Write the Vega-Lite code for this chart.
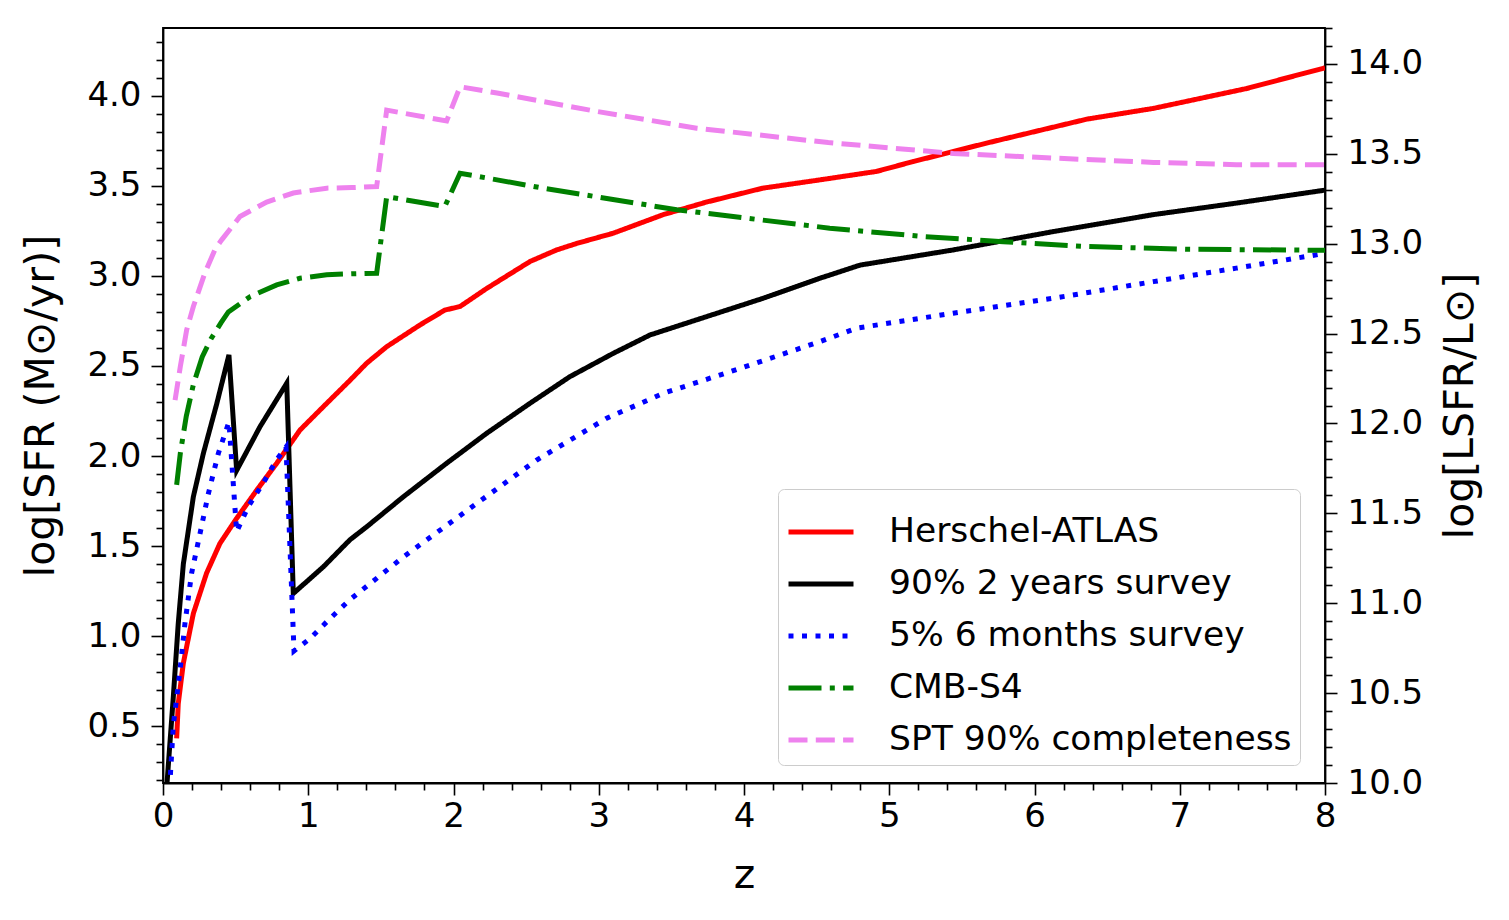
{
  "$schema": "https://vega.github.io/schema/vega-lite/v6.json",
  "width": 1162,
  "height": 755,
  "autosize": {"type": "none"},
  "padding": {"left": 163, "top": 28, "right": 184, "bottom": 137},
  "background": "white",
  "datasets": {
    "curves": [
      {"s": "Herschel-ATLAS", "z": 0.094, "v": 0.433},
      {"s": "Herschel-ATLAS", "z": 0.105, "v": 0.626},
      {"s": "Herschel-ATLAS", "z": 0.14, "v": 0.85},
      {"s": "Herschel-ATLAS", "z": 0.209, "v": 1.126},
      {"s": "Herschel-ATLAS", "z": 0.3, "v": 1.35},
      {"s": "Herschel-ATLAS", "z": 0.392, "v": 1.515},
      {"s": "Herschel-ATLAS", "z": 0.507, "v": 1.654},
      {"s": "Herschel-ATLAS", "z": 0.645, "v": 1.81},
      {"s": "Herschel-ATLAS", "z": 0.783, "v": 1.96},
      {"s": "Herschel-ATLAS", "z": 0.943, "v": 2.144},
      {"s": "Herschel-ATLAS", "z": 1.104, "v": 2.274},
      {"s": "Herschel-ATLAS", "z": 1.287, "v": 2.42},
      {"s": "Herschel-ATLAS", "z": 1.402, "v": 2.515},
      {"s": "Herschel-ATLAS", "z": 1.54, "v": 2.607},
      {"s": "Herschel-ATLAS", "z": 1.77, "v": 2.728},
      {"s": "Herschel-ATLAS", "z": 1.94, "v": 2.81},
      {"s": "Herschel-ATLAS", "z": 2.045, "v": 2.83},
      {"s": "Herschel-ATLAS", "z": 2.228, "v": 2.93},
      {"s": "Herschel-ATLAS", "z": 2.527, "v": 3.08},
      {"s": "Herschel-ATLAS", "z": 2.71, "v": 3.144},
      {"s": "Herschel-ATLAS", "z": 2.848, "v": 3.18},
      {"s": "Herschel-ATLAS", "z": 3.1, "v": 3.237},
      {"s": "Herschel-ATLAS", "z": 3.444, "v": 3.34},
      {"s": "Herschel-ATLAS", "z": 3.743, "v": 3.41},
      {"s": "Herschel-ATLAS", "z": 4.13, "v": 3.487},
      {"s": "Herschel-ATLAS", "z": 4.523, "v": 3.533},
      {"s": "Herschel-ATLAS", "z": 4.913, "v": 3.58},
      {"s": "Herschel-ATLAS", "z": 5.166, "v": 3.635},
      {"s": "Herschel-ATLAS", "z": 5.67, "v": 3.737},
      {"s": "Herschel-ATLAS", "z": 6.36, "v": 3.87},
      {"s": "Herschel-ATLAS", "z": 6.82, "v": 3.93},
      {"s": "Herschel-ATLAS", "z": 7.46, "v": 4.04},
      {"s": "Herschel-ATLAS", "z": 8.0, "v": 4.155},

      {"s": "90% 2 years survey", "z": 0.02, "v": 0.1},
      {"s": "90% 2 years survey", "z": 0.071, "v": 0.663},
      {"s": "90% 2 years survey", "z": 0.105, "v": 1.07},
      {"s": "90% 2 years survey", "z": 0.14, "v": 1.4},
      {"s": "90% 2 years survey", "z": 0.209, "v": 1.774},
      {"s": "90% 2 years survey", "z": 0.278, "v": 2.015},
      {"s": "90% 2 years survey", "z": 0.37, "v": 2.29},
      {"s": "90% 2 years survey", "z": 0.454, "v": 2.561},
      {"s": "90% 2 years survey", "z": 0.507, "v": 1.92},
      {"s": "90% 2 years survey", "z": 0.668, "v": 2.163},
      {"s": "90% 2 years survey", "z": 0.852, "v": 2.404},
      {"s": "90% 2 years survey", "z": 0.897, "v": 1.237},
      {"s": "90% 2 years survey", "z": 1.104, "v": 1.385},
      {"s": "90% 2 years survey", "z": 1.287, "v": 1.535},
      {"s": "90% 2 years survey", "z": 1.402, "v": 1.607},
      {"s": "90% 2 years survey", "z": 1.655, "v": 1.774},
      {"s": "90% 2 years survey", "z": 1.953, "v": 1.96},
      {"s": "90% 2 years survey", "z": 2.228, "v": 2.126},
      {"s": "90% 2 years survey", "z": 2.527, "v": 2.293},
      {"s": "90% 2 years survey", "z": 2.8, "v": 2.44},
      {"s": "90% 2 years survey", "z": 3.1, "v": 2.57},
      {"s": "90% 2 years survey", "z": 3.353, "v": 2.672},
      {"s": "90% 2 years survey", "z": 3.674, "v": 2.756},
      {"s": "90% 2 years survey", "z": 4.133, "v": 2.876},
      {"s": "90% 2 years survey", "z": 4.523, "v": 2.987},
      {"s": "90% 2 years survey", "z": 4.8, "v": 3.06},
      {"s": "90% 2 years survey", "z": 5.44, "v": 3.144},
      {"s": "90% 2 years survey", "z": 6.13, "v": 3.246},
      {"s": "90% 2 years survey", "z": 6.818, "v": 3.34},
      {"s": "90% 2 years survey", "z": 7.39, "v": 3.404},
      {"s": "90% 2 years survey", "z": 8.0, "v": 3.476},

      {"s": "5% 6 months survey", "z": 0.04, "v": 0.08},
      {"s": "5% 6 months survey", "z": 0.071, "v": 0.506},
      {"s": "5% 6 months survey", "z": 0.117, "v": 0.81},
      {"s": "5% 6 months survey", "z": 0.151, "v": 1.07},
      {"s": "5% 6 months survey", "z": 0.197, "v": 1.35},
      {"s": "5% 6 months survey", "z": 0.255, "v": 1.57},
      {"s": "5% 6 months survey", "z": 0.312, "v": 1.79},
      {"s": "5% 6 months survey", "z": 0.381, "v": 2.015},
      {"s": "5% 6 months survey", "z": 0.454, "v": 2.19},
      {"s": "5% 6 months survey", "z": 0.507, "v": 1.58},
      {"s": "5% 6 months survey", "z": 0.587, "v": 1.72},
      {"s": "5% 6 months survey", "z": 0.69, "v": 1.85},
      {"s": "5% 6 months survey", "z": 0.783, "v": 1.98},
      {"s": "5% 6 months survey", "z": 0.847, "v": 2.05},
      {"s": "5% 6 months survey", "z": 0.902, "v": 0.918},
      {"s": "5% 6 months survey", "z": 1.012, "v": 0.987},
      {"s": "5% 6 months survey", "z": 1.15, "v": 1.098},
      {"s": "5% 6 months survey", "z": 1.283, "v": 1.2},
      {"s": "5% 6 months survey", "z": 1.655, "v": 1.44},
      {"s": "5% 6 months survey", "z": 2.114, "v": 1.71},
      {"s": "5% 6 months survey", "z": 2.573, "v": 1.978},
      {"s": "5% 6 months survey", "z": 3.055, "v": 2.21},
      {"s": "5% 6 months survey", "z": 3.444, "v": 2.348},
      {"s": "5% 6 months survey", "z": 3.904, "v": 2.468},
      {"s": "5% 6 months survey", "z": 4.523, "v": 2.635},
      {"s": "5% 6 months survey", "z": 4.776, "v": 2.71},
      {"s": "5% 6 months survey", "z": 5.44, "v": 2.793},
      {"s": "5% 6 months survey", "z": 6.13, "v": 2.876},
      {"s": "5% 6 months survey", "z": 6.818, "v": 2.968},
      {"s": "5% 6 months survey", "z": 7.39, "v": 3.043},
      {"s": "5% 6 months survey", "z": 8.0, "v": 3.125},

      {"s": "CMB-S4", "z": 0.094, "v": 1.84},
      {"s": "CMB-S4", "z": 0.12, "v": 2.02},
      {"s": "CMB-S4", "z": 0.16, "v": 2.22},
      {"s": "CMB-S4", "z": 0.21, "v": 2.4},
      {"s": "CMB-S4", "z": 0.27, "v": 2.55},
      {"s": "CMB-S4", "z": 0.33, "v": 2.65},
      {"s": "CMB-S4", "z": 0.4, "v": 2.74},
      {"s": "CMB-S4", "z": 0.45, "v": 2.8},
      {"s": "CMB-S4", "z": 0.6, "v": 2.885},
      {"s": "CMB-S4", "z": 0.783, "v": 2.95},
      {"s": "CMB-S4", "z": 0.943, "v": 2.987},
      {"s": "CMB-S4", "z": 1.127, "v": 3.006},
      {"s": "CMB-S4", "z": 1.3, "v": 3.012},
      {"s": "CMB-S4", "z": 1.471, "v": 3.015},
      {"s": "CMB-S4", "z": 1.54, "v": 3.44},
      {"s": "CMB-S4", "z": 1.94, "v": 3.385},
      {"s": "CMB-S4", "z": 2.045, "v": 3.57},
      {"s": "CMB-S4", "z": 2.618, "v": 3.487},
      {"s": "CMB-S4", "z": 3.537, "v": 3.367},
      {"s": "CMB-S4", "z": 4.59, "v": 3.265},
      {"s": "CMB-S4", "z": 5.21, "v": 3.22},
      {"s": "CMB-S4", "z": 5.785, "v": 3.19},
      {"s": "CMB-S4", "z": 6.36, "v": 3.163},
      {"s": "CMB-S4", "z": 7.05, "v": 3.148},
      {"s": "CMB-S4", "z": 8.0, "v": 3.142},

      {"s": "SPT 90% completeness", "z": 0.083, "v": 2.31},
      {"s": "SPT 90% completeness", "z": 0.12, "v": 2.5},
      {"s": "SPT 90% completeness", "z": 0.163, "v": 2.7},
      {"s": "SPT 90% completeness", "z": 0.209, "v": 2.83},
      {"s": "SPT 90% completeness", "z": 0.29, "v": 3.02},
      {"s": "SPT 90% completeness", "z": 0.36, "v": 3.15},
      {"s": "SPT 90% completeness", "z": 0.404, "v": 3.2},
      {"s": "SPT 90% completeness", "z": 0.53, "v": 3.33},
      {"s": "SPT 90% completeness", "z": 0.714, "v": 3.41},
      {"s": "SPT 90% completeness", "z": 0.897, "v": 3.46},
      {"s": "SPT 90% completeness", "z": 1.127, "v": 3.487},
      {"s": "SPT 90% completeness", "z": 1.3, "v": 3.49},
      {"s": "SPT 90% completeness", "z": 1.471, "v": 3.496},
      {"s": "SPT 90% completeness", "z": 1.54, "v": 3.92},
      {"s": "SPT 90% completeness", "z": 1.953, "v": 3.86},
      {"s": "SPT 90% completeness", "z": 2.045, "v": 4.05},
      {"s": "SPT 90% completeness", "z": 2.3, "v": 4.015},
      {"s": "SPT 90% completeness", "z": 2.986, "v": 3.913},
      {"s": "SPT 90% completeness", "z": 3.674, "v": 3.82},
      {"s": "SPT 90% completeness", "z": 4.58, "v": 3.74},
      {"s": "SPT 90% completeness", "z": 5.44, "v": 3.68},
      {"s": "SPT 90% completeness", "z": 6.13, "v": 3.654},
      {"s": "SPT 90% completeness", "z": 6.82, "v": 3.63},
      {"s": "SPT 90% completeness", "z": 7.39, "v": 3.617},
      {"s": "SPT 90% completeness", "z": 8.0, "v": 3.617}
    ],
    "rightRange": [{"L": 10.0}, {"L": 14.2}]
  },
  "layer": [
    {
      "data": {"name": "curves"},
      "mark": {"type": "line", "strokeWidth": 5, "clip": true},
      "encoding": {
        "x": {
          "field": "z",
          "type": "quantitative",
          "title": "z",
          "scale": {"domain": [0, 8], "nice": false, "zero": false},
          "axis": {
            "values": [0, 0.2, 0.4, 0.6, 0.8, 1, 1.2, 1.4, 1.6, 1.8, 2, 2.2, 2.4, 2.6, 2.8, 3, 3.2, 3.4, 3.6, 3.8, 4, 4.2, 4.4, 4.6, 4.8, 5, 5.2, 5.4, 5.6, 5.8, 6, 6.2, 6.4, 6.6, 6.8, 7, 7.2, 7.4, 7.6, 7.8, 8],
            "labelExpr": "abs(datum.value - round(datum.value)) < 0.01 ? format(datum.value, 'd') : ''",
            "tickSize": {"condition": {"test": "abs(datum.value - round(datum.value)) < 0.01", "value": 12}, "value": 7},
            "labelPadding": 4,
            "titlePadding": 22
          }
        },
        "y": {
          "field": "v",
          "type": "quantitative",
          "title": "log[SFR (M⊙/yr)]",
          "scale": {"domain": [0.185, 4.376], "nice": false, "zero": false},
          "axis": {
            "orient": "left",
            "values": [0.2, 0.3, 0.4, 0.5, 0.6, 0.7, 0.8, 0.9, 1.0, 1.1, 1.2, 1.3, 1.4, 1.5, 1.6, 1.7, 1.8, 1.9, 2.0, 2.1, 2.2, 2.3, 2.4, 2.5, 2.6, 2.7, 2.8, 2.9, 3.0, 3.1, 3.2, 3.3, 3.4, 3.5, 3.6, 3.7, 3.8, 3.9, 4.0, 4.1, 4.2, 4.3],
            "labelExpr": "abs(datum.value * 2 - round(datum.value * 2)) < 0.01 ? format(datum.value, '.1f') : ''",
            "tickSize": {"condition": {"test": "abs(datum.value * 2 - round(datum.value * 2)) < 0.01", "value": 12}, "value": 7},
            "labelPadding": 10,
            "titlePadding": 24
          }
        },
        "color": {
          "field": "s",
          "type": "nominal",
          "scale": {
            "domain": ["Herschel-ATLAS", "90% 2 years survey", "5% 6 months survey", "CMB-S4", "SPT 90% completeness"],
            "range": ["#ff0000", "#000000", "#0000ff", "#008000", "#ee82ee"]
          },
          "legend": {"title": null}
        },
        "strokeDash": {
          "field": "s",
          "type": "nominal",
          "scale": {
            "domain": ["Herschel-ATLAS", "90% 2 years survey", "5% 6 months survey", "CMB-S4", "SPT 90% completeness"],
            "range": [[1, 0], [1, 0], [5, 8.5], [33, 8.3, 5, 8.3], [19, 8.3]]
          },
          "legend": {"title": null}
        }
      }
    },
    {
      "data": {"name": "rightRange"},
      "mark": {"type": "point", "opacity": 0},
      "encoding": {
        "y": {
          "field": "L",
          "type": "quantitative",
          "title": "log[LSFR/L⊙]",
          "scale": {"domain": [10.0, 14.2], "nice": false, "zero": false},
          "axis": {
            "orient": "right",
            "values": [10.0, 10.1, 10.2, 10.3, 10.4, 10.5, 10.6, 10.7, 10.8, 10.9, 11.0, 11.1, 11.2, 11.3, 11.4, 11.5, 11.6, 11.7, 11.8, 11.9, 12.0, 12.1, 12.2, 12.3, 12.4, 12.5, 12.6, 12.7, 12.8, 12.9, 13.0, 13.1, 13.2, 13.3, 13.4, 13.5, 13.6, 13.7, 13.8, 13.9, 14.0, 14.1, 14.2],
            "labelExpr": "abs(datum.value * 2 - round(datum.value * 2)) < 0.01 ? format(datum.value, '.1f') : ''",
            "tickSize": {"condition": {"test": "abs(datum.value * 2 - round(datum.value * 2)) < 0.01", "value": 12}, "value": 7},
            "labelPadding": 10,
            "titleAngle": 270,
            "titlePadding": 59
          }
        }
      }
    }
  ],
  "resolve": {"scale": {"y": "independent"}, "axis": {"y": "independent"}},
  "config": {
    "font": "DejaVu Sans",
    "view": {"stroke": "#000000", "strokeWidth": 1.8},
    "axis": {
      "grid": false,
      "domainColor": "#000000",
      "domainWidth": 1.8,
      "tickColor": "#000000",
      "tickWidth": 1.6,
      "labelFont": "DejaVu Sans",
      "labelFontSize": 34,
      "labelColor": "#000000",
      "labelFlush": false,
      "labelOverlap": false,
      "titleFont": "DejaVu Sans",
      "titleFontSize": 41,
      "titleFontWeight": "normal",
      "titleColor": "#000000"
    },
    "legend": {
      "orient": "none",
      "legendX": 615,
      "legendY": 461,
      "padding": 8,
      "strokeColor": "#cccccc",
      "fillColor": "rgba(255,255,255,0.8)",
      "cornerRadius": 6,
      "labelFont": "DejaVu Sans",
      "labelFontSize": 34.5,
      "labelColor": "#000000",
      "labelLimit": 0,
      "labelOffset": 33,
      "rowPadding": -5,
      "symbolType": "stroke",
      "symbolSize": 4225,
      "symbolStrokeWidth": 5
    }
  }
}
